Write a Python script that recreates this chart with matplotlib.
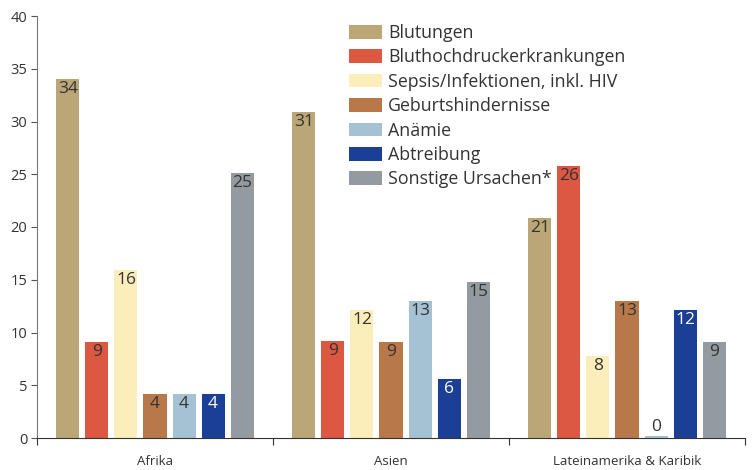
import matplotlib
matplotlib.use("Agg")
import matplotlib.pyplot as plt
from matplotlib.patches import Patch
import numpy as np

plt.rcParams['font.family'] = ['Open Sans', 'DejaVu Sans']

regions = ["Afrika", "Asien", "Lateinamerika & Karibik"]
causes = ["Blutungen", "Bluthochdruckerkrankungen", "Sepsis/Infektionen, inkl. HIV",
          "Geburtshindernisse", "Anämie", "Abtreibung", "Sonstige Ursachen*"]
colors = ["#BBA677", "#DC5842", "#FCEEBA", "#B8784A", "#A4C2D3", "#1B3F94", "#939BA1"]
label_colors = ["#333333"] * 5 + ["white", "#333333"]

values_afrika = [34.0, 9.1, 15.9, 4.2, 4.2, 4.2, 25.1]
values_asien = [30.9, 9.2, 12.1, 9.1, 13.0, 5.6, 14.8]
values_latein = [20.9, 25.8, 7.8, 13.0, 0.2, 12.1, 9.1]
labels_afrika = [34, 9, 16, 4, 4, 4, 25]
labels_asien = [31, 9, 12, 9, 13, 6, 15]
labels_latein = [21, 26, 8, 13, 0, 12, 9]

values = [values_afrika, values_asien, values_latein]
labels = [labels_afrika, labels_asien, labels_latein]

fig = plt.figure(figsize=(7.53, 4.70), dpi=100)
ax = fig.add_axes([37/753, 32/470, 708/753, 422/470])

spacing = 0.123
width = 0.0975
for g, (vals, labs) in enumerate(zip(values, labels)):
    center = g + 0.5
    for i, (v, lab) in enumerate(zip(vals, labs)):
        x = center + (i - 3) * spacing
        ax.bar(x, v, width=width, color=colors[i], linewidth=0)
        if v < 1.5:
            ax.annotate(str(lab), (x, v), xytext=(0, 1), textcoords="offset points",
                        ha="center", va="bottom", fontsize=12.5, color="#333333")
        else:
            ax.annotate(str(lab), (x, v), xytext=(0, -1.5), textcoords="offset points",
                        ha="center", va="top", fontsize=12.5, color=label_colors[i])

ax.set_xlim(0, 3)
ax.set_ylim(0, 40)
ax.set_yticks(np.arange(0, 41, 5))
ax.set_xticks([0, 1, 2, 3])
ax.set_xticklabels([])
ax.set_xticks([0.5, 1.5, 2.5], minor=True)
ax.set_xticklabels(regions, minor=True)
ax.tick_params(axis='x', which='minor', length=0, pad=12, labelsize=9.5, labelcolor="#333333")
ax.tick_params(axis='x', which='major', length=5, color="#333333", direction='out')
ax.tick_params(axis='y', length=4, color="#555555", labelsize=10.5, labelcolor="#333333", pad=3)
for s in ["top", "right"]:
    ax.spines[s].set_visible(False)
ax.spines["left"].set_color("#777777")
ax.spines["bottom"].set_color("#333333")

handles = [Patch(facecolor=c, edgecolor='none') for c in colors]
fig.legend(handles, causes, loc="upper left", bbox_to_anchor=(349/753, 1 - 24/470),
           frameon=False, fontsize=12.8, handlelength=1.85, handleheight=0.8,
           labelspacing=0.36, handletextpad=0.35, borderpad=0, borderaxespad=0,
           labelcolor="#333333")

fig.savefig("out.png", dpi=100)
